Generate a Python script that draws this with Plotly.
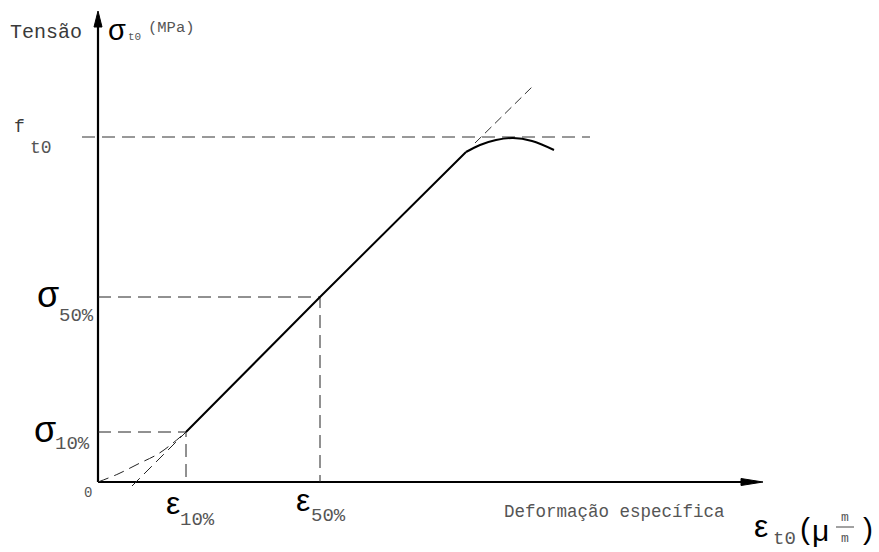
import plotly.graph_objects as go

# Schematic values (abstract units: strain on x, stress on y)
eps_10 = 88
eps_50 = 222
sig_10 = 50
sig_50 = 185
f_t0 = 345

linear_x = [eps_10, eps_50, 368]
linear_y = [sig_10, sig_50, 330]

cap_x = [368, 382, 398, 415, 434, 456]
cap_y = [330, 337, 342, 344, 341, 332]

toe_x = [0, 20, 40, 60, 75, 88]
toe_y = [0, 8, 18, 28, 39, 50]

ext_low_x = [34, eps_10]
ext_low_y = [-4, sig_10]

ext_high_x = [377, 434]
ext_high_y = [339, 395]

ft_line_x = [-16, 492]

x_axis_end = 665
y_axis_end = 471

MONO = "Courier New, Liberation Mono, monospace"
SANS = "Liberation Sans, Arial, sans-serif"
INK = "#000000"
TXT = "#3a3a3a"
SUB = "#555555"
DASH = "13px,7px"

fig = go.Figure()

def line(x, y, width=2, dash=None, shape="linear", color=INK):
    fig.add_trace(go.Scatter(x=x, y=y, mode="lines", hoverinfo="skip",
                             line=dict(color=color, width=width, dash=dash, shape=shape),
                             showlegend=False))

# axes
line([0, x_axis_end - 12], [0, 0], width=2.2)
line([0, 0], [0, y_axis_end - 10], width=2.2)

# reference dashed lines
line(ft_line_x, [f_t0, f_t0], width=1, dash=DASH, color="#333")
line([0, eps_50, eps_50], [sig_50, sig_50, 0], width=1, dash=DASH, color="#222")
line([0, eps_10, eps_10], [sig_10, sig_10, 0], width=1, dash=DASH, color="#222")
line(toe_x, toe_y, width=1, dash="11px,6px", shape="spline", color="#222")
line(ext_low_x, ext_low_y, width=1, dash="11px,6px", color="#222")
line(ext_high_x, ext_high_y, width=1, dash="9px,5px", color="#333")

# curve
line(linear_x, linear_y, width=2)
line(cap_x, cap_y, width=2, shape="spline")

# arrowheads
fig.add_shape(type="path", xref="x", yref="y",
              path=f"M {x_axis_end-22},3.5 L {x_axis_end},0 L {x_axis_end-22},-3.5 Z",
              fillcolor=INK, line=dict(color=INK, width=1))
fig.add_shape(type="path", xref="x", yref="y",
              path=f"M -4,{y_axis_end-16} L 0,{y_axis_end} L 4,{y_axis_end-16} Z",
              fillcolor=INK, line=dict(color=INK, width=1))

def lab(text, px, py, size, family=MONO, color=INK, xanchor="left"):
    fig.add_annotation(x=px - 98, y=482 - py, xref="x", yref="y", text=text,
                       showarrow=False, xanchor=xanchor, yanchor="middle",
                       font=dict(size=size, family=family, color=color), borderpad=0)

# y-axis title
lab("Tensão", 9, 32, 20, MONO, TXT)
lab("σ", 107, 30, 29, SANS)
lab("t0", 127, 37, 11, MONO, SUB)
lab("(MPa)", 147, 28, 15.5, MONO, SUB)

# f_t0
lab("f", 13, 127, 18, MONO, TXT)
lab("t0", 29, 148, 18, MONO, SUB)

# sigma labels
lab("σ", 36, 294, 36, SANS)
lab("50%", 58, 316, 19, MONO, SUB)
lab("σ", 33, 429, 36, SANS)
lab("10%", 54, 444, 19, MONO, SUB)

lab("0", 83, 493, 14, MONO, SUB)

# epsilon labels
lab("ε", 165, 503, 32, SANS)
lab("10%", 179, 520, 19, MONO, SUB)
lab("ε", 295, 500, 32, SANS)
lab("50%", 310, 516, 19, MONO, SUB)

lab("Deformação específica", 503, 512, 17.5, MONO, SUB)

lab("ε", 753, 526, 32, SANS)
lab("t0", 772, 539, 19, MONO, SUB)
lab("(", 799, 528, 30, SANS)
lab("μ", 811, 530, 30, SANS)
lab("m", 845, 517, 13, MONO, SUB, "center")
lab("m", 845, 538, 13, MONO, SUB, "center")
fig.add_shape(type="line", xref="x", yref="y", x0=836 - 98, x1=854 - 98,
              y0=482 - 527, y1=482 - 527, line=dict(color="#444", width=1))
lab(")", 862, 528, 30, SANS)

fig.update_layout(
    width=879, height=552,
    margin=dict(l=0, r=0, t=0, b=0),
    paper_bgcolor="white", plot_bgcolor="white",
    xaxis=dict(range=[-98, 781], visible=False, fixedrange=True),
    yaxis=dict(range=[-70, 482], visible=False, fixedrange=True),
)

fig.write_html("out.html")
